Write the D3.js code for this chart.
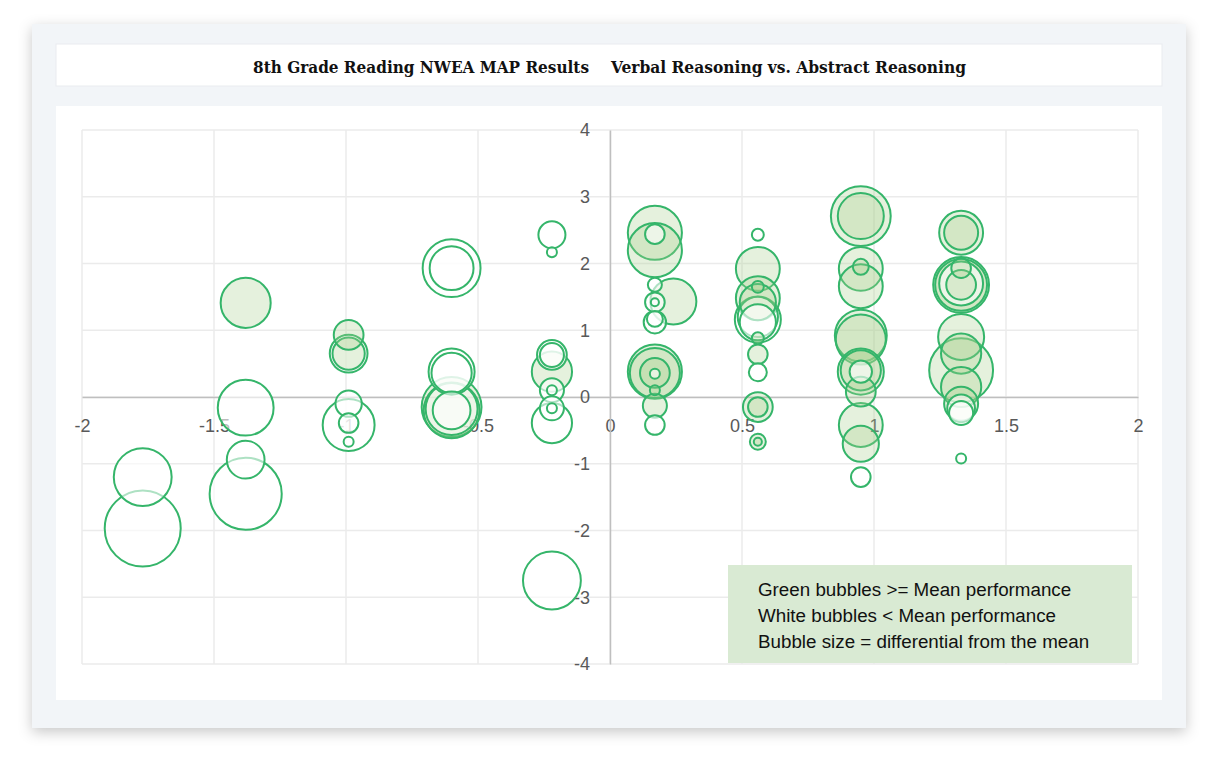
<!DOCTYPE html>
<html>
<head>
<meta charset="utf-8">
<script src="https://cdn.jsdelivr.net/npm/d3@7"></script>
<style>
  body { margin: 0; background: #ffffff; }
  svg { display: block; }
</style>
</head>
<body>
<script>
// chart values (z-scores and differential from the mean)
var xTicks = [-2, -1.5, -1, -0.5, 0, 0.5, 1, 1.5, 2];
var yTicks = [-4, -3, -2, -1, 0, 1, 2, 3, 4];

var verbal = [
  -1.77, -1.77,
  -1.38, -1.38, -1.38, -1.38,
  -0.99, -0.99, -0.99, -0.99, -0.99, -0.99, -0.99,
  -0.60, -0.60, -0.60, -0.60, -0.60, -0.60, -0.60, -0.60,
  -0.22, -0.22, -0.22, -0.22, -0.22, -0.22, -0.22, -0.22, -0.22, -0.22, -0.22,
  0.17, 0.17, 0.17, 0.24, 0.17, 0.17, 0.17, 0.17, 0.17, 0.17, 0.17, 0.17, 0.17, 0.17, 0.17, 0.17,
  0.56, 0.56, 0.56, 0.56, 0.56, 0.56, 0.56, 0.56, 0.56, 0.56, 0.56, 0.56, 0.56, 0.56, 0.56,
  0.95, 0.95, 0.95, 0.95, 0.95, 0.95, 0.95, 0.95, 0.95, 0.95, 0.95, 0.95, 0.95, 0.95,
  1.33, 1.33, 1.33, 1.33, 1.33, 1.33, 1.33, 1.33, 1.33, 1.33, 1.33, 1.33, 1.33, 1.33, 1.33
];
var abstract = [
  -1.20, -1.97,
  1.41, -0.16, -0.94, -1.45,
  0.93, 0.65, 0.65, -0.10, -0.42, -0.39, -0.67,
  1.93, 1.93, 0.38, 0.36, -0.15, -0.20, -0.18, -0.20,
  2.43, 2.17, 0.63, 0.63, 0.38, 0.10, 0.10, -0.17, -0.17, -0.39, -2.75,
  2.46, 2.20, 2.44, 1.43, 1.68, 1.42, 1.42, 1.17, 1.12, 0.38, 0.36, 0.36, 0.35, 0.10, -0.13, -0.42,
  2.43, 1.92, 1.48, 1.42, 1.65, 1.16, 1.20, 1.12, 0.88, 0.64, 0.37, -0.15, -0.15, -0.67, -0.67,
  2.71, 2.71, 1.92, 1.95, 1.66, 0.92, 0.86, 0.38, 0.40, 0.38, 0.08, -0.42, -0.70, -1.20,
  2.46, 2.46, 1.93, 1.68, 1.68, 1.70, 1.68, 0.90, 0.40, 0.65, 0.15, -0.10, -0.17, -0.24, -0.92
];
var differential = [
  0.87, 1.50,
  0.65, 0.81, 0.37, 1.35,
  0.23, 0.37, 0.27, 0.18, 0.70, 0.10, 0.026,
  0.87, 0.50, 0.55, 0.42, 0.93, 0.81, 0.70, 0.37,
  0.19, 0.026, 0.23, 0.15, 0.42, 0.15, 0.026, 0.15, 0.026, 0.42, 0.87,
  0.76, 0.76, 0.10, 0.55, 0.051, 0.017, 0.10, 0.066, 0.13, 0.76, 0.65, 0.23, 0.026, 0.026, 0.15, 0.10,
  0.037, 0.50, 0.50, 0.34, 0.037, 0.55, 0.42, 0.34, 0.037, 0.10, 0.084, 0.23, 0.10, 0.066, 0.017,
  0.93, 0.55, 0.50, 0.066, 0.50, 0.70, 0.65, 0.55, 0.42, 0.13, 0.23, 0.50, 0.34, 0.10,
  0.50, 0.30, 0.10, 0.81, 0.70, 0.50, 0.23, 0.55, 1.06, 0.42, 0.42, 0.30, 0.20, 0.15, 0.026
];
// 1 = at or above mean (green), 0 = below mean (white)
var aboveMean = [
  0, 0,
  1, 0, 0, 0,
  1, 0, 1, 0, 0, 0, 0,
  0, 0, 0, 0, 1, 1, 0, 0,
  0, 0, 0, 0, 1, 0, 0, 0, 0, 0, 0,
  1, 1, 0, 1, 0, 0, 0, 0, 0, 1, 1, 1, 0, 1, 1, 0,
  0, 1, 1, 1, 1, 0, 0, 0, 1, 1, 0, 1, 1, 1, 1,
  1, 1, 1, 1, 1, 1, 1, 1, 1, 0, 1, 1, 1, 0,
  1, 1, 1, 1, 1, 0, 1, 1, 1, 1, 1, 1, 0, 0, 0
];

var titleLeft = "8th Grade Reading NWEA MAP Results";
var titleRight = "Verbal Reasoning vs. Abstract Reasoning";
var legendLines = [
  "Green bubbles >= Mean performance",
  "White bubbles < Mean performance",
  "Bubble size = differential from the mean"
];

var width = 1218,
    height = 771;

var svg = d3.select("body")
    .append("svg")
    .attr("width", width)
    .attr("height", height);

//soft shadow for the outer panel
var defs = svg.append("defs");
var shadow = defs.append("filter")
    .attr("id", "shadow")
    .attr("x", "-10%").attr("y", "-10%")
    .attr("width", "120%").attr("height", "125%");
shadow.append("feDropShadow")
    .attr("dx", 0).attr("dy", 4)
    .attr("stdDeviation", 7)
    .attr("flood-color", "#000")
    .attr("flood-opacity", 0.22);

//outer panel, title box and chart box
svg.append("rect")
    .attr("x", 32).attr("y", 24)
    .attr("width", 1154).attr("height", 704)
    .attr("fill", "#f2f5f8")
    .attr("filter", "url(#shadow)");

svg.append("rect")
    .attr("x", 56).attr("y", 44)
    .attr("width", 1106).attr("height", 42)
    .attr("fill", "#ffffff")
    .attr("stroke", "#e9ecef");

svg.append("rect")
    .attr("x", 56).attr("y", 106)
    .attr("width", 1106).attr("height", 594)
    .attr("fill", "#ffffff");

//title
var titleStyle = function(t){
    t.attr("font-family", "'DejaVu Serif Condensed', 'DejaVu Serif', serif")
        .attr("font-weight", "bold")
        .attr("font-size", 16)
        .attr("fill", "#111")
        .attr("lengthAdjust", "spacingAndGlyphs");
};
svg.append("text")
    .attr("x", 253).attr("y", 73)
    .attr("textLength", 336)
    .text(titleLeft)
    .call(titleStyle);
svg.append("text")
    .attr("x", 611).attr("y", 73)
    .attr("textLength", 355)
    .text(titleRight)
    .call(titleStyle);

//scales
var x = d3.scaleLinear().domain([-2, 2]).range([82, 1138]);
var y = d3.scaleLinear().domain([-4, 4]).range([664, 130]);
var r = d3.scaleSqrt().domain([0, 1.5]).range([0, 38]);

//gridlines
svg.append("g")
    .selectAll("line")
    .data(xTicks)
    .enter()
    .append("line")
    .attr("x1", function(d){ return x(d); })
    .attr("x2", function(d){ return x(d); })
    .attr("y1", y(4)).attr("y2", y(-4))
    .attr("stroke", "#ebebeb")
    .attr("stroke-width", 1.5);

svg.append("g")
    .selectAll("line")
    .data(yTicks)
    .enter()
    .append("line")
    .attr("y1", function(d){ return y(d); })
    .attr("y2", function(d){ return y(d); })
    .attr("x1", x(-2)).attr("x2", x(2))
    .attr("stroke", "#ebebeb")
    .attr("stroke-width", 1.5);

//axes through the origin
var fmt = function(d){ return String(d); };

var xAxis = svg.append("g")
    .attr("transform", "translate(0," + y(0) + ")")
    .call(d3.axisBottom(x).tickValues(xTicks).tickFormat(fmt).tickSize(0).tickPadding(22));

var yAxis = svg.append("g")
    .attr("transform", "translate(" + x(0) + ",0)")
    .call(d3.axisLeft(y).tickValues(yTicks).tickFormat(fmt).tickSize(0).tickPadding(20));

[xAxis, yAxis].forEach(function(a){
    a.select(".domain").attr("stroke", "#bfbfbf").attr("stroke-width", 1.5);
    a.selectAll("text")
        .attr("font-family", "'Liberation Sans', Arial, sans-serif")
        .attr("font-size", 18)
        .attr("fill", "#595959");
});

//bubbles, largest drawn first
var bubbles = verbal.map(function(v, i){
    return { x: v, y: abstract[i], size: differential[i], above: aboveMean[i] };
}).sort(function(a, b){ return b.size - a.size; });

svg.append("g")
    .selectAll("circle")
    .data(bubbles)
    .enter()
    .append("circle")
    .attr("cx", function(d){ return x(d.x); })
    .attr("cy", function(d){ return y(d.y); })
    .attr("r", function(d){ return r(d.size); })
    .attr("fill", function(d){ return d.above ? "#a9d18e" : "#ffffff"; })
    .attr("fill-opacity", function(d){ return d.above ? 0.3 : 0.6; })
    .attr("stroke", "#35b56a")
    .attr("stroke-width", 2);

//note box
svg.append("rect")
    .attr("x", 728).attr("y", 565)
    .attr("width", 404).attr("height", 98)
    .attr("fill", "#d9ead3");

svg.append("g")
    .selectAll("text")
    .data(legendLines)
    .enter()
    .append("text")
    .attr("x", 758)
    .attr("y", function(d, i){ return 596 + i * 26; })
    .attr("font-family", "'Liberation Sans', Arial, sans-serif")
    .attr("font-size", 18.8)
    .attr("fill", "#111")
    .text(function(d){ return d; });
</script>
</body>
</html>
